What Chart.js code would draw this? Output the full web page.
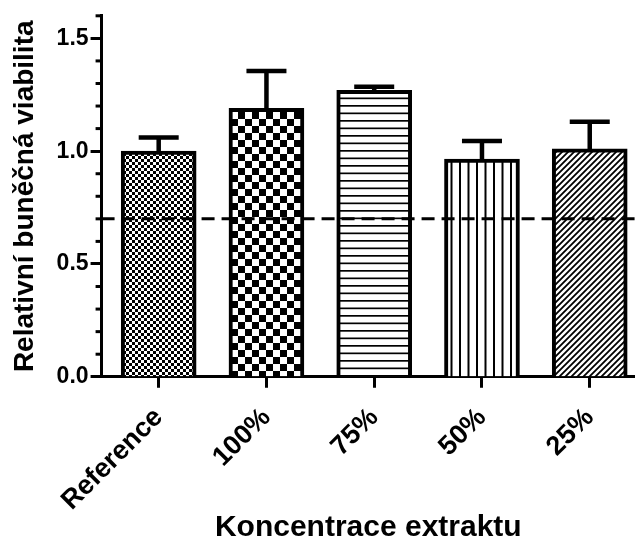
<!DOCTYPE html>
<html>
<head>
<meta charset="utf-8">
<script src="https://cdn.jsdelivr.net/npm/chart.js@4"></script>
<style>
    body { margin: 0; background: #fff; overflow: hidden; }
    #wrap { width: 635px; height: 543px; position: relative; }
</style>
</head>
<body>
<div id="wrap"><canvas id="viabilityChart"></canvas></div>
<script>
// Data
const categories = ['Reference', '100%', '75%', '50%', '25%'];
const viability = [1.00, 1.19, 1.27, 0.965, 1.01];
const errorsUp = [0.06, 0.165, 0.015, 0.08, 0.12];
const thresholdValue = 0.7;
const yMajorTicks = [0.0, 0.5, 1.0, 1.5];

const FONT = '"Liberation Sans", Arial, sans-serif';

// Build a fill pattern for each bar
function makePattern(kind) {
    const c = document.createElement('canvas');
    const g = c.getContext('2d');
    let s;
    if (kind === 'fineChecker') {
        s = 6; c.width = s; c.height = s;
        g.fillStyle = '#fff'; g.fillRect(0, 0, s, s);
        g.fillStyle = '#000';
        g.fillRect(0, 0, 3, 3); g.fillRect(3, 3, 3, 3);
    } else if (kind === 'checker') {
        s = 14; c.width = s; c.height = s;
        g.fillStyle = '#fff'; g.fillRect(0, 0, s, s);
        g.fillStyle = '#000';
        g.fillRect(0, 0, 7, 7); g.fillRect(7, 7, 7, 7);
    } else if (kind === 'horizontal') {
        c.width = 8; c.height = 15;
        g.fillStyle = '#fff'; g.fillRect(0, 0, 8, 15);
        g.fillStyle = '#000';
        g.fillRect(0, 0, 8, 1.7); g.fillRect(0, 7.5, 8, 1.7);
    } else if (kind === 'vertical') {
        c.width = 17; c.height = 8;
        g.fillStyle = '#fff'; g.fillRect(0, 0, 17, 8);
        g.fillStyle = '#000';
        g.fillRect(0, 0, 2, 8); g.fillRect(8.5, 0, 2, 8);
    } else {
        s = 6; c.width = s; c.height = s;
        g.fillStyle = '#fff'; g.fillRect(0, 0, s, s);
        g.strokeStyle = '#000'; g.lineWidth = 1.8;
        g.beginPath();
        g.moveTo(-2, s + 2); g.lineTo(s + 2, -2);
        g.moveTo(-2, 2); g.lineTo(2, -2);
        g.moveTo(s - 2, s + 2); g.lineTo(s + 2, s - 2);
        g.stroke();
    }
    return g.createPattern(c, 'repeat');
}

const patterns = ['fineChecker', 'checker', 'horizontal', 'vertical', 'diagonal'].map(makePattern);

function isMajor(v) {
    return Math.abs(v / 0.5 - Math.round(v / 0.5)) < 1e-6;
}

// Error bars, threshold line and minor ticks
const extrasPlugin = {
    id: 'extras',
    afterDatasetsDraw(chart) {
        const ctx = chart.ctx;
        const xs = chart.scales.x;
        const ys = chart.scales.y;
        const area = chart.chartArea;
        ctx.save();
        ctx.strokeStyle = '#000';

        // error bars (upper only)
        ctx.lineWidth = 4.5;
        viability.forEach((v, i) => {
            const x = xs.getPixelForValue(i);
            const yTop = ys.getPixelForValue(v);
            const yErr = ys.getPixelForValue(v + errorsUp[i]);
            ctx.beginPath();
            ctx.moveTo(x, yTop);
            ctx.lineTo(x, yErr);
            ctx.moveTo(x - 20, yErr);
            ctx.lineTo(x + 20, yErr);
            ctx.stroke();
        });

        // dashed threshold line
        const yT = ys.getPixelForValue(thresholdValue);
        ctx.lineWidth = 3;
        ctx.setLineDash([13, 7]);
        ctx.beginPath();
        ctx.moveTo(area.left, yT);
        ctx.lineTo(area.right, yT);
        ctx.stroke();
        ctx.setLineDash([]);

        // short minor ticks on the y axis
        ctx.lineWidth = 3;
        ys.ticks.forEach(t => {
            if (isMajor(t.value)) return;
            const y = ys.getPixelForValue(t.value);
            ctx.beginPath();
            ctx.moveTo(area.left - 6, y);
            ctx.lineTo(area.left, y);
            ctx.stroke();
        });
        ctx.restore();
    }
};

const ctx = document.getElementById('viabilityChart').getContext('2d');
new Chart(ctx, {
    type: 'bar',
    data: {
        datasets: [{
            data: viability.map((v, i) => ({ x: i, y: v })),
            backgroundColor: patterns,
            borderColor: '#000',
            borderWidth: 4,
            borderSkipped: 'bottom',
            barThickness: 75
        }]
    },
    options: {
        responsive: true,
        maintainAspectRatio: false,
        animation: false,
        layout: { padding: { left: 8, top: 12, right: 0, bottom: 0 } },
        plugins: {
            legend: { display: false },
            tooltip: { enabled: false }
        },
        scales: {
            x: {
                type: 'linear',
                offset: false,
                min: -0.53,
                max: 4.42,
                afterBuildTicks: scale => {
                    scale.ticks = categories.map((c, i) => ({ value: i }));
                },
                ticks: {
                    autoSkip: false,
                    minRotation: 45,
                    maxRotation: 45,
                    color: '#000',
                    font: { family: FONT, size: 27, weight: 'bold' },
                    padding: 14,
                    callback: value => categories[value]
                },
                grid: {
                    offset: false,
                    drawOnChartArea: false,
                    drawTicks: true,
                    tickLength: 11,
                    tickWidth: 3,
                    tickColor: '#000'
                },
                border: { display: true, color: '#000', width: 3 },
                title: {
                    display: true,
                    text: 'Koncentrace extraktu',
                    color: '#000',
                    font: { family: FONT, size: 30, weight: 'bold', lineHeight: 1 },
                    padding: { top: -18, bottom: 0 }
                }
            },
            y: {
                min: 0,
                max: 1.6,
                ticks: {
                    stepSize: 0.1,
                    autoSkip: false,
                    color: '#000',
                    font: { family: FONT, size: 23, weight: 'bold' },
                    padding: 2,
                    callback: value => (isMajor(value) && yMajorTicks.some(m => Math.abs(m - value) < 1e-6)) ? value.toFixed(1) : ''
                },
                grid: {
                    drawOnChartArea: false,
                    drawTicks: true,
                    tickLength: 11,
                    tickWidth: 3,
                    tickColor: c => (c.tick && isMajor(c.tick.value)) ? '#000' : 'rgba(0,0,0,0)'
                },
                border: { display: true, color: '#000', width: 3 },
                title: {
                    display: true,
                    text: 'Relativní buněčná viabilita',
                    color: '#000',
                    font: { family: FONT, size: 28, weight: 'bold' },
                    padding: { top: 0, bottom: 13 }
                }
            }
        }
    },
    plugins: [extrasPlugin]
});
</script>
</body>
</html>
